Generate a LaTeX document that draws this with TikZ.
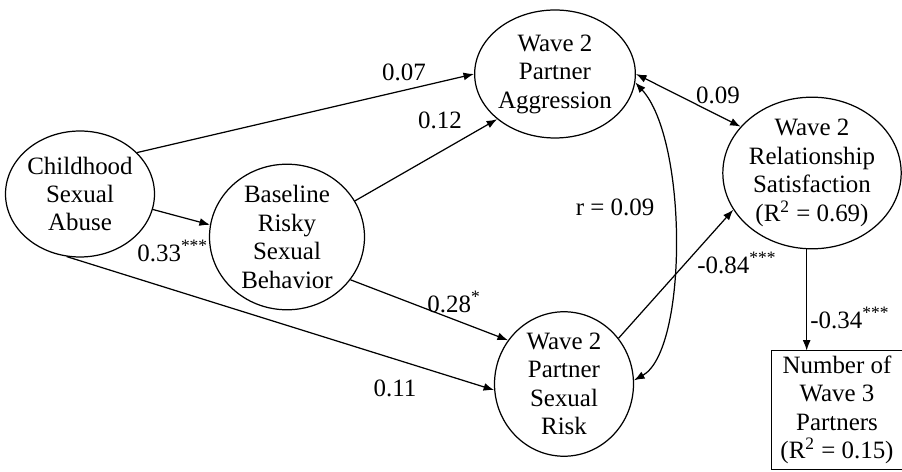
\documentclass[tikz,border=0pt]{standalone}
\usepackage{fontspec}
\setmainfont{Liberation Serif}
\usetikzlibrary{shapes.geometric,arrows.meta}
\tikzset{
  var/.style={draw, ellipse, line width=0.7pt, inner sep=0pt, align=center, font=\fontsize{14.2}{16.2}\selectfont},
  obs/.style={rectangle, inner sep=0pt, align=center, font=\fontsize{14.2}{16.2}\selectfont},
  path/.style={line width=0.7pt, -{Latex[length=6pt,width=4.5pt]}},
  bipath/.style={line width=0.7pt, {Latex[length=6pt,width=4.5pt]}-{Latex[length=6pt,width=4.5pt]}},
  lbl/.style={inner sep=0pt, font=\fontsize{14.2}{16.2}\selectfont}
}
\begin{document}
\begin{tikzpicture}[x=0.02cm, y=-0.02cm]
\useasboundingbox[fill=white] (0,0) rectangle (902,472);
\node[var, minimum width=2.8cm, minimum height=2.52cm] (csa) at (80,194) {Childhood\\Sexual\\Abuse};
\node[var, minimum width=3.1cm, minimum height=2.68cm] (brsb) at (287,237) {Baseline\\Risky\\Sexual\\Behavior};
\node[var, minimum width=2.78cm, minimum height=2.56cm] (pa) at (555,74) {Wave 2\\Partner\\Aggression};
\node[var, minimum width=2.78cm, minimum height=2.48cm] (psr) at (564,384) {Wave 2\\Partner\\Sexual\\Risk};
\node[var, minimum width=3.4cm, minimum height=2.94cm] (rs) at (812,173) {Wave 2\\Relationship\\Satisfaction\\(R\textsuperscript{2} = 0.69)};
\node[obs, minimum width=2.62cm, minimum height=2.36cm] (nw) at (837,410) {Number of\\Wave 3\\Partners\\(R\textsuperscript{2} = 0.15)};
\draw[line width=0.7pt] (nw.north west) rectangle ([xshift=1cm]nw.south east);

\draw[path] (csa.36) -- (pa.180);
\draw[path] (brsb.28) -- (pa.-142);
\draw[path] (csa.-12) -- (brsb.171);
\draw[path] (csa.-102) -- (psr.185);
\draw[path] (brsb.-34) -- (psr.142);
\draw[bipath] (pa.0) -- (rs.147);
\draw[bipath] (pa.-6) .. controls (688,140) and (688,350) .. (psr.3);
\draw[path] (psr.40) -- (rs.-155);
\draw[path] (rs.-94) -- (rs.-94 |- nw.north);

\node[lbl] (l1) at (404,72) {0.07};
\node[lbl] (l2) at (440,120) {0.12};
\node[lbl, anchor=west] (l3) at (137,251) {0.33\textsuperscript{***}};
\node[lbl] (l4) at (395,388) {0.11};
\node[lbl, anchor=west] (l5) at (427,302) {0.28\textsuperscript{*}};
\node[lbl] (l6) at (718,95) {0.09};
\node[lbl] (l7) at (615,207) {r = 0.09};
\node[lbl, anchor=west] (l8) at (697,263) {-0.84\textsuperscript{***}};
\node[lbl, anchor=west] (l9) at (810,318) {-0.34\textsuperscript{***}};
\end{tikzpicture}
\end{document}
